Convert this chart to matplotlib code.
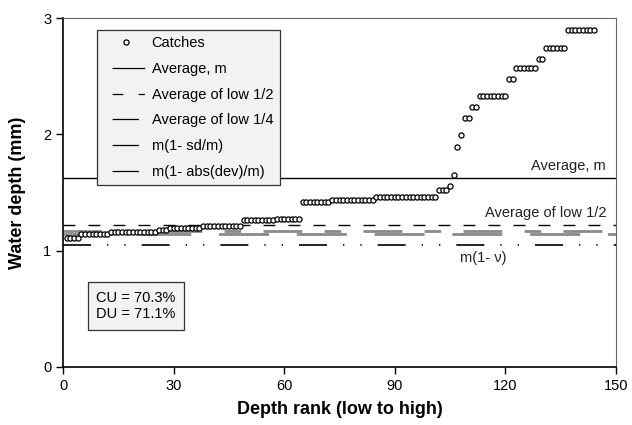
import numpy as np
import matplotlib
matplotlib.use("Agg")
import matplotlib.pyplot as plt
from matplotlib.lines import Line2D

plt.rcParams['font.family'] = ['Liberation Sans', 'DejaVu Sans']

depth_levels = [1.107, 1.14, 1.16, 1.175, 1.195, 1.21, 1.26, 1.275, 1.42, 1.435,
                1.465, 1.52, 1.553, 1.648, 1.891, 1.997, 2.14, 2.234, 2.326,
                2.478, 2.572, 2.644, 2.741, 2.893]
depth_counts = [4, 8, 13, 3, 9, 11, 9, 7, 8, 12,
                17, 3, 1, 1, 1, 1, 2, 2, 8,
                2, 6, 2, 6, 8]

depths = np.repeat(depth_levels, depth_counts)
ranks = np.arange(1, len(depths) + 1)

# reference lines (mm)
avg_m = 1.622
avg_low_half = 1.223
avg_low_quarter = 1.165
m_sd = 1.145
m_absdev = 1.047

fig = plt.figure(figsize=(6.32, 4.25), dpi=100)
ax = fig.add_axes([0.0997, 0.1365, 0.875, 0.8211])

ax.axhline(avg_m, color='black', lw=1.0)
ax.axhline(avg_low_half, color='black', lw=1.0, dashes=(8.6, 9.4))
ax.axhline(avg_low_quarter, color='#8a8a8a', lw=2.0, dashes=(14, 8, 6, 8))
ax.axhline(m_sd, color='#8a8a8a', lw=2.0, dashes=(18, 10))
ax.axhline(m_absdev, color='black', lw=1.2, dashes=(16.8, 9.6, 0.8, 9.6, 0.8, 9.6))

ax.plot(ranks, depths, 'o', ms=3.7, mfc='white', mec='black', mew=0.9,
        linestyle='none', zorder=5)

ax.text(147.3, 1.725, 'Average, m', ha='right', va='center', fontsize=10.5,
        color='#222222')
ax.text(147.3, 1.32, 'Average of low 1/2', ha='right', va='center',
        fontsize=10.5, color='#222222')
ax.text(113.9, 0.935, 'm(1- \u03bd)', ha='center', va='center', fontsize=10.5,
        color='#222222')

ax.text(0.132, 0.175, 'CU = 70.3%\nDU = 71.1%', transform=ax.transAxes,
        ha='center', va='center', fontsize=10.5, linespacing=1.25,
        bbox=dict(boxstyle='square,pad=0.6', fc='#f2f2f2', ec='#333333', lw=0.9))

# legend samples: leading blank so the short lines sit in from the frame
handles = [
    Line2D([], [], marker='o', ms=3.7, mfc='white', mec='black', mew=0.9,
           linestyle='none'),
    Line2D([], [], color='black', lw=0.9, dashes=(0.01, 6.5, 26, 50)),
    Line2D([], [], color='black', lw=0.9, dashes=(0.01, 6.5, 8.6, 12.2, 5, 50)),
    Line2D([], [], color='black', lw=0.9, dashes=(0.01, 6.5, 21, 50)),
    Line2D([], [], color='black', lw=0.9, dashes=(0.01, 6.5, 21, 50)),
    Line2D([], [], color='black', lw=0.9, dashes=(0.01, 6.5, 21, 50)),
]
labels = ['Catches', 'Average, m', 'Average of low 1/2', 'Average of low 1/4',
          'm(1- sd/m)', 'm(1- abs(dev)/m)']
leg = ax.legend(handles, labels, loc='upper left', bbox_to_anchor=(0.0615, 0.966),
                fontsize=10.5, handlelength=3.05, handletextpad=0.25,
                labelspacing=0.8, borderpad=0.45, fancybox=False,
                framealpha=1, borderaxespad=0)
leg.get_frame().set_facecolor('#f2f2f2')
leg.get_frame().set_edgecolor('#333333')
leg.get_frame().set_linewidth(0.9)

ax.set_xlim(0, 150)
ax.set_ylim(0, 3)
ax.set_xticks([0, 30, 60, 90, 120, 150])
ax.set_yticks([0, 1, 2, 3])
ax.tick_params(direction='out', length=5, width=1, labelsize=10.5)
ax.spines['left'].set_linewidth(1.2)
ax.spines['bottom'].set_linewidth(1.2)
ax.spines['top'].set_color('#666666')
ax.spines['right'].set_color('#666666')

ax.set_xlabel('Depth rank (low to high)', fontsize=13, fontweight='bold',
              labelpad=6)
ax.set_ylabel('Water depth (mm)', fontsize=13, fontweight='bold', labelpad=12)

fig.savefig('out.png', dpi=100)
